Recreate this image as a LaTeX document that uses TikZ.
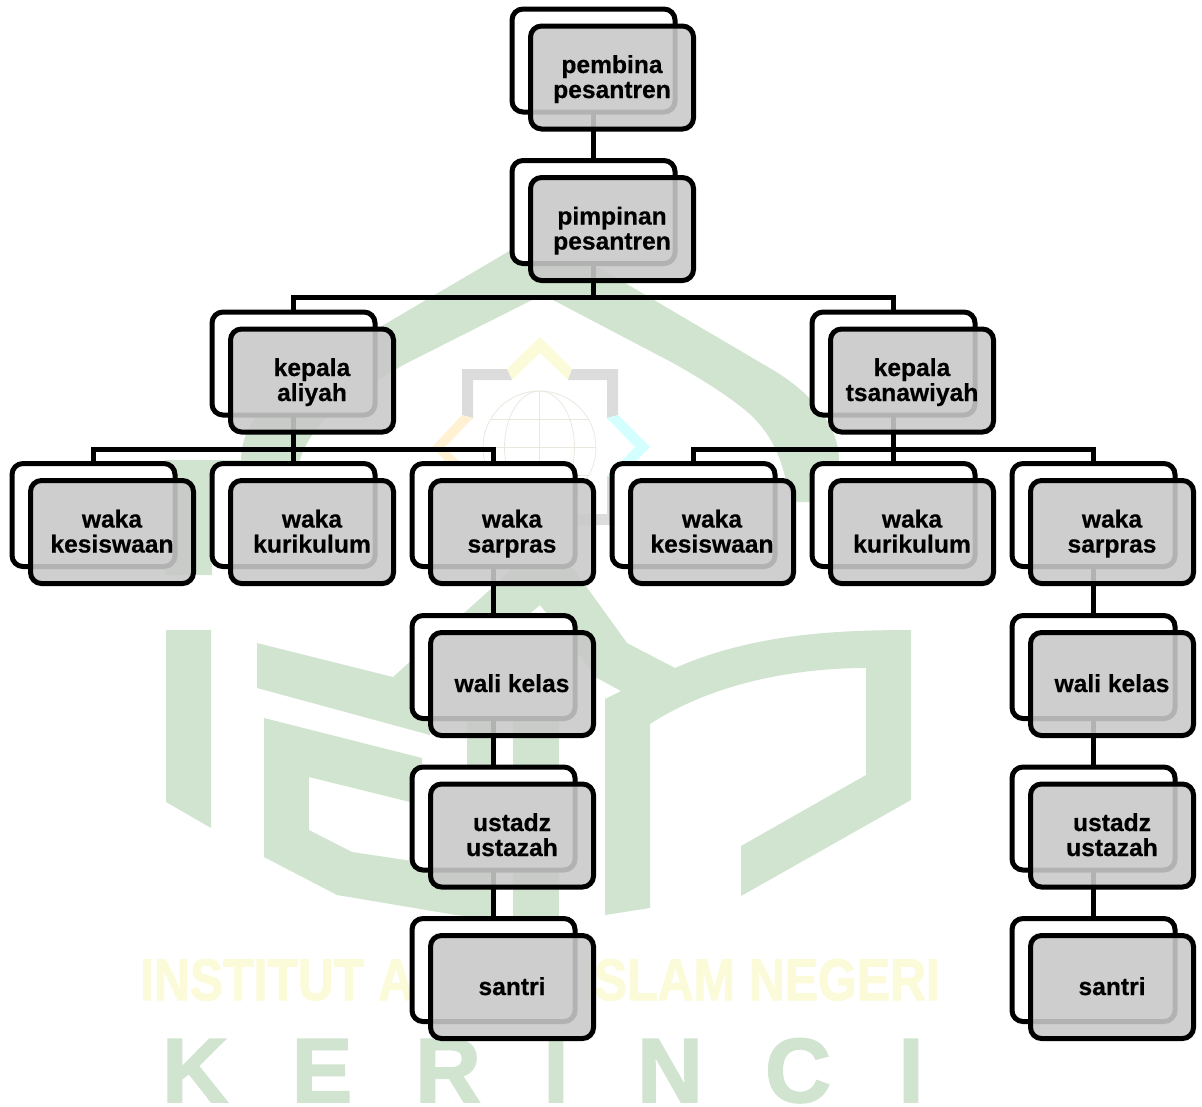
\documentclass[tikz,border=0pt]{standalone}
\usepackage{fontspec}
\setmainfont{Liberation Sans}[BoldFeatures={FakeBold=0.5}]
\newfontfamily\wmfont{Liberation Sans Bold}[FakeBold=2]
\usetikzlibrary{calc}
\definecolor{wmgreen}{HTML}{D0E4D0}
\definecolor{wmyellow}{HTML}{FBFBD9}
\definecolor{wmgray}{HTML}{DDDCDC}
\definecolor{wmorange}{HTML}{FFF1D2}
\definecolor{wmcyan}{HTML}{D4FFFF}
\definecolor{wmglobe}{HTML}{E9E7DE}
\definecolor{boxgray}{HTML}{C9C9C9}
\tikzset{
  backbox/.style={draw=black, fill=white, line width=5pt, rounded corners=11pt,
    minimum width=163pt, minimum height=103pt, inner sep=0pt, outer sep=0pt},
  frontbox/.style={draw=black, fill=boxgray, fill opacity=.89, text opacity=1,
    line width=5pt, rounded corners=11pt, minimum width=163pt, minimum height=103pt,
    inner sep=0pt, outer sep=0pt, xshift=18.5pt, yshift=-17pt, align=center,
    font=\fontsize{24.6}{25}\selectfont\bfseries,
    text height=41pt, text depth=0pt},
  oneline/.style={text height=16pt, text depth=0pt},
  link/.style={draw=black, line width=5pt},
  wmletter/.style={text=wmgreen, anchor=base, inner sep=0pt,
    font=\fontsize{91}{91}\wmfont}
}
\begin{document}
\begin{tikzpicture}[x=1pt,y=-1pt]
  \useasboundingbox (0,0) rectangle (1202,1106);
  \fill[wmgreen] (540,233)--(773,370) .. controls (810,392) and (839,425) .. (839,460)
    --(839,490)--(810,502)--(793,502) .. controls (783,480) and (785,450) .. (753,417)
    .. controls (735,400) and (700,378) .. (673,363)--(553,300)--(540,296)--(407,363)
    .. controls (380,378) and (345,400) .. (327,417) .. controls (305,440) and (297,460) .. (297,480)
    --(212,500)--(212,575)--(165,575)--(165,460)--(241,460)
    .. controls (241,425) and (270,392) .. (307,370)--cycle;
  \fill[wmgreen] (166,630)--(211,630)--(211,828)--(166,802)--cycle;
  \fill[wmgreen] (257,643)--(393,677)--(493,587)--(512,568)--(573,568)--(627,643)--(675,668)
    .. controls (750,635) and (830,630) .. (911,630)--(911,800)--(741,896)--(741,846)
    --(866,775)--(866,668) .. controls (790,668) and (710,685) .. (650,724)
    --(650,908)--(605,915)--(605,699)--(621,691)--(597,678)--(540,605)--(440,690)--(430,735)
    --(257,688)--cycle;
  \fill[wmgreen] (264,718)--(422,758)--(422,805)--(309,777)--(309,830)--(352,852)--(426,863)
    --(467,870)--(467,690)--(496,690)--(496,920)--(456,915)--(337,895)--(264,857)--cycle;
  \fill[wmgreen] (513,650) rectangle (559,925);
  \fill[wmyellow] (540,337)--(572,369)--(568,380)--(540,353)--(512,380)--(507,369)--cycle;
  \fill[wmgray] (462,415)--(462,369)--(507,369)--(512,380)--(473,380)--(473,418)--cycle;
  \fill[wmgray] (618,415)--(618,369)--(572,369)--(568,380)--(607,380)--(607,418)--cycle;
  \fill[wmgray] (618,479)--(618,525)--(572,525)--(568,514)--(607,514)--(607,476)--cycle;
  \fill[wmorange] (462,415)--(473,418)--(445,447)--(473,476)--(462,479)--(432,447)--cycle;
  \fill[wmcyan] (618,415)--(607,418)--(635,447)--(607,476)--(618,479)--(650,447)--cycle;
  \draw[wmglobe, line width=.8pt] (539.5,447.5) circle[radius=56.5pt];
  \draw[wmglobe, line width=.8pt] (539.5,447.5) ellipse[x radius=35pt, y radius=56.5pt];
  \draw[wmglobe, line width=.8pt] (539.5,391)--(539.5,504);
  \draw[wmglobe, line width=.8pt] (483,447.5)--(596,447.5);
  \draw[wmglobe, line width=.8pt] (490.5,419.5)--(588.5,419.5);
  \draw[wmglobe, line width=.8pt] (490.5,475.5)--(588.5,475.5);
  \node[text=wmyellow, anchor=base, inner sep=0pt, xscale=.85, transform shape,
    font=\fontsize{58.6}{60}\wmfont]
    (institut) at (540,1000) {INSTITUT AGAMA ISLAM NEGERI};
  \foreach \x/\l [count=\i] in {195/K,322/E,448/R,556/I,670/N,798/C,911/I}
    \node[wmletter] (kerinci\i) at (\x,1102) {\l};

  \node[backbox] (pembinaB) at (593.5,60.5) {};
  \node[backbox] (pimpinanB) at (593.5,212) {};
  \node[backbox] (aliyahB) at (293.5,363.5) {};
  \node[backbox] (tsanawiyahB) at (893.5,363.5) {};
  \node[backbox] (kesiswaanAB) at (93.5,515) {};
  \node[backbox] (kurikulumAB) at (293.5,515) {};
  \node[backbox] (sarprasAB) at (493.5,515) {};
  \node[backbox] (kesiswaanTB) at (693.5,515) {};
  \node[backbox] (kurikulumTB) at (893.5,515) {};
  \node[backbox] (sarprasTB) at (1093.5,515) {};
  \node[backbox] (waliAB) at (493.5,667) {};
  \node[backbox] (ustadzAB) at (493.5,818.5) {};
  \node[backbox] (santriAB) at (493.5,970) {};
  \node[backbox] (waliTB) at (1093.5,667) {};
  \node[backbox] (ustadzTB) at (1093.5,818.5) {};
  \node[backbox] (santriTB) at (1093.5,970) {};

  \coordinate (busTop) at (593.5,297);
  \coordinate (busA) at (293.5,449);
  \coordinate (busT) at (893.5,449);
  \draw[link] (pembinaB)--(pimpinanB);
  \draw[link] (pimpinanB)--(busTop);
  \draw[link] (busTop)-|(aliyahB.north);
  \draw[link] (busTop)-|(tsanawiyahB.north);
  \draw[link] (aliyahB)--(kurikulumAB);
  \draw[link] (busA)-|(kesiswaanAB.north);
  \draw[link] (busA)-|(sarprasAB.north);
  \draw[link] (tsanawiyahB)--(kurikulumTB);
  \draw[link] (busT)-|(kesiswaanTB.north);
  \draw[link] (busT)-|(sarprasTB.north);
  \draw[link] (sarprasAB)--(waliAB);
  \draw[link] (waliAB)--(ustadzAB);
  \draw[link] (ustadzAB)--(santriAB);
  \draw[link] (sarprasTB)--(waliTB);
  \draw[link] (waliTB)--(ustadzTB);
  \draw[link] (ustadzTB)--(santriTB);

  \node[frontbox] (pembina) at (pembinaB) {pembina\\pesantren};
  \node[frontbox] (pimpinan) at (pimpinanB) {pimpinan\\pesantren};
  \node[frontbox] (aliyah) at (aliyahB) {kepala\\aliyah};
  \node[frontbox] (tsanawiyah) at (tsanawiyahB) {kepala\\tsanawiyah};
  \node[frontbox] (kesiswaanA) at (kesiswaanAB) {waka\\kesiswaan};
  \node[frontbox] (kurikulumA) at (kurikulumAB) {waka\\kurikulum};
  \node[frontbox] (sarprasA) at (sarprasAB) {waka\\sarpras};
  \node[frontbox] (kesiswaanT) at (kesiswaanTB) {waka\\kesiswaan};
  \node[frontbox] (kurikulumT) at (kurikulumTB) {waka\\kurikulum};
  \node[frontbox] (sarprasT) at (sarprasTB) {waka\\sarpras};
  \node[frontbox, oneline] (waliA) at (waliAB) {wali kelas};
  \node[frontbox] (ustadzA) at (ustadzAB) {ustadz\\ustazah};
  \node[frontbox, oneline] (santriA) at (santriAB) {santri};
  \node[frontbox, oneline] (waliT) at (waliTB) {wali kelas};
  \node[frontbox] (ustadzT) at (ustadzTB) {ustadz\\ustazah};
  \node[frontbox, oneline] (santriT) at (santriTB) {santri};
\end{tikzpicture}
\end{document}
